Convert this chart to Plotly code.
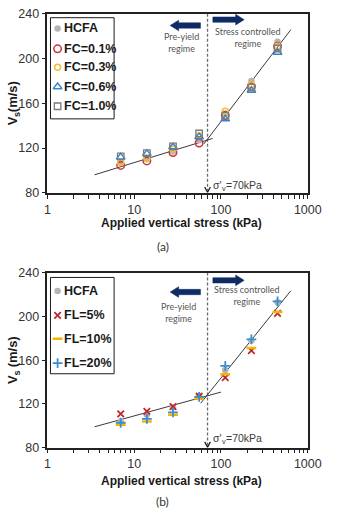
import math
import plotly.graph_objects as go

W, H = 337, 515

# ---------------- data ----------------
stress = [7, 14, 28, 56, 112, 224, 448]

# panel (a)
names_a = ["HCFA", "FC=0.1%", "FC=0.3%", "FC=0.6%", "FC=1.0%"]
hcfa_a = [107, 110, 117, 127, 151, 180, 215]
fc01 = [104.5, 108.5, 116, 124.5, 149, 175, 211]
fc03 = [107, 111, 119, 131, 153, 176.5, 211]
fc06 = [112, 115, 121, 130, 146, 171.5, 205.5]
fc10 = [112.5, 115.5, 121.5, 133, 149, 174, 209]

# panel (b)
names_b = ["HCFA", "FL=5%", "FL=10%", "FL=20%"]
hcfa_b = [104, 110, 117, 127, 151, 178, 213]
fl5 = [110.8, 113.2, 117.6, 127, 144, 168.6, 202.7]
fl10 = [101, 104, 110, 125, 147, 171, 204]
fl20 = [102.8, 106.4, 112.3, 126.5, 154.7, 179, 213.6]

# trend lines
pre_a_x, pre_a_y = [3.5, 80], [96.1, 128.6]
post_a_x, post_a_y = [63.6, 637], [123.7, 225.8]
pre_b_x, pre_b_y = [3.5, 100], [99.1, 130.8]
post_b_x, post_b_y = [58.4, 637], [120.6, 223.4]

yield_stress = 70
y_min, y_max = 80, 240
x_ticks = [1, 10, 100, 1000]
x_tick_labels = ["1", "10", "100", "1000"]
y_ticks = [80, 120, 160, 200, 240]
x_title = "Applied vertical stress (kPa)"
y_title_parts_a = ("V", "s", "(m/s)")
y_title_parts_b = ("V", "s", " (m/s)")

# ---------------- styles ----------------
st_a = [
    dict(symbol="circle", size=6.5, color="#b4b4b4", lw=0),
    dict(symbol="circle-open", size=7.5, color="#c9333a", lw=1.5),
    dict(symbol="circle-open", size=6, color="#f2bd35", lw=1.5),
    dict(symbol="triangle-up-open", size=7.5, color="#3586cc", lw=1.5),
    dict(symbol="square-open", size=6.5, color="#7b7b7b", lw=1.3),
]
st_b = [
    dict(symbol="circle", size=6.5, color="#b4b4b4", lw=0),
    dict(symbol="x-thin-open", size=6.5, color="#c0282d", lw=1.8),
    dict(symbol="line-ew-open", size=7, color="#f5b400", lw=2.5),
    dict(symbol="cross-thin-open", size=7, color="#3a8ed0", lw=1.8),
]

fig = go.Figure()

def px_x(p):
    return p / W

def px_y(p):
    return 1 - p / H

X0PX, X1PX = 46.7, 321.0

def data_to_px(xv):
    return X0PX + math.log10(xv) / 3 * (X1PX - X0PX)

panels = [
    dict(xa="x", ya="y", series=[hcfa_a, fc01, fc03, fc06, fc10], names=names_a, st=st_a,
         pre=(pre_a_x, pre_a_y), post=(post_a_x, post_a_y), ybot=191),
    dict(xa="x2", ya="y2", series=[hcfa_b, fl5, fl10, fl20], names=names_b, st=st_b,
         pre=(pre_b_x, pre_b_y), post=(post_b_x, post_b_y), ybot=453),
]

for p in panels:
    fig.add_trace(go.Scatter(x=[yield_stress, yield_stress], y=[y_max, y_min + 2], mode="lines",
                             line=dict(color="#6a6a6a", width=1.3, dash="3px,2px"),
                             xaxis=p["xa"], yaxis=p["ya"], showlegend=False, hoverinfo="skip"))
    for (lx, ly) in (p["pre"], p["post"]):
        fig.add_trace(go.Scatter(x=lx, y=ly, mode="lines", line=dict(color="#3a3a3a", width=1),
                                 xaxis=p["xa"], yaxis=p["ya"], showlegend=False, hoverinfo="skip"))
    for vals, nm, st in zip(p["series"], p["names"], p["st"]):
        fig.add_trace(go.Scatter(x=stress, y=vals, mode="markers", name=nm,
                                 marker=dict(symbol=st["symbol"], size=st["size"], color=st["color"],
                                             line=dict(color=st["color"], width=st["lw"])),
                                 xaxis=p["xa"], yaxis=p["ya"], showlegend=False))

# ---------------- manual legends (pixel helper axis) ----------------
legend_specs = [
    dict(box=(50, 11, 117, 115), ys=[22, 43, 62, 82, 102], names=names_a, st=st_a),
    dict(box=(50, 278, 117, 377), ys=[292, 317, 341, 366], names=names_b, st=st_b),
]
shapes = []
annotations = []
for L in legend_specs:
    x0, y0, x1, y1 = L["box"]
    shapes.append(dict(type="rect", xref="paper", yref="paper", x0=px_x(x0), x1=px_x(x1),
                       y0=px_y(y1), y1=px_y(y0), line=dict(color="#1a1a1a", width=1),
                       fillcolor="white", layer="below"))
    for yy, nm, st in zip(L["ys"], L["names"], L["st"]):
        fig.add_trace(go.Scatter(x=[57.5], y=[yy], mode="markers", xaxis="x3", yaxis="y3",
                                 marker=dict(symbol=st["symbol"], size=st["size"], color=st["color"],
                                             line=dict(color=st["color"], width=st["lw"])),
                                 showlegend=False, hoverinfo="skip"))
        annotations.append(dict(text=nm, xref="paper", yref="paper", x=px_x(62), y=px_y(yy),
                                xanchor="left", yanchor="middle", showarrow=False,
                                font=dict(family="Liberation Sans, Arial", size=12.5, color="#1a1a1a",
                                          weight="bold")))

# ---------------- arrows drawn as polygons (pixel helper axis) ----------------
navy = "#0e2c63"

def block_arrow(tip_x, tail_x, yc, shaft=5.5, head_h=11, head_len=9):
    d = 1 if tail_x > tip_x else -1
    hb = tip_x + d * head_len
    xs = [tip_x, hb, hb, tail_x, tail_x, hb, hb, tip_x]
    ys = [yc, yc - head_h / 2, yc - shaft / 2, yc - shaft / 2, yc + shaft / 2, yc + shaft / 2,
          yc + head_h / 2, yc]
    return xs, ys

arrow_specs = [(176, 208, 19), (254, 221, 13), (176, 208, 293), (254, 221, 281)]
for tip, tail, yc in arrow_specs:
    xs, ys = block_arrow(tip, tail, yc)
    fig.add_trace(go.Scatter(x=xs, y=ys, mode="lines", fill="toself", fillcolor=navy,
                             line=dict(color=navy, width=0.5), xaxis="x3", yaxis="y3",
                             showlegend=False, hoverinfo="skip"))

for p in panels:
    xc = data_to_px(yield_stress)
    yb = p["ybot"]
    fig.add_trace(go.Scatter(x=[xc - 3, xc, xc + 3], y=[yb - 6, yb - 0.5, yb - 6], mode="lines",
                             line=dict(color="#111111", width=1.2), xaxis="x3", yaxis="y3",
                             showlegend=False, hoverinfo="skip"))

# ---------------- text annotations ----------------
txt_font = dict(family="Lato, Open Sans", size=9, color="#555555")
title_font = dict(family="Liberation Sans, Arial", size=12, color="#1a1a1a", weight="bold")
ytitle_font = dict(family="Liberation Sans, Arial", size=13, color="#1a1a1a", weight="bold")
sub_font = dict(family="Liberation Sans, Arial", size=9, color="#1a1a1a", weight="bold")
sig_font = dict(family="Liberation Sans, Arial", size=10.5, color="#3a3a3a")
sig_sub_font = dict(family="Liberation Sans, Arial", size=7.5, color="#3a3a3a")


def ann(text, x, y, font, xa="center", ya="middle", angle=0, pad=1):
    return dict(text=text, xref="paper", yref="paper", x=px_x(x), y=px_y(y), xanchor=xa,
                yanchor=ya, showarrow=False, font=font, textangle=angle, borderpad=pad)


def y_title(parts, ycenter):
    v, s, rest = parts
    fs = ytitle_font["size"]
    wv = 0.667 * fs
    ws = 0.556 * sub_font["size"]
    wr = sum(0.278 if c == " " else (0.889 if c == "m" else (0.556 if c == "s" else 0.333 if c in "()" else 0.278))
             for c in rest) * fs
    total = wv + ws + wr
    yb = ycenter + total / 2
    out = [ann(v, 10, yb - wv / 2, ytitle_font, angle=-90, pad=0),
           ann(s, 14.5, yb - wv - ws / 2, sub_font, angle=-90, pad=0),
           ann(rest, 10, yb - wv - ws - wr / 2, ytitle_font, angle=-90, pad=0)]
    return out


def panel_text(pre_xy, stress_xy, sig_y, title_y, lab_y, label, yparts, ycenter):
    out = []
    out.append(ann("Pre-yield<br>regime", pre_xy[0], pre_xy[1], txt_font))
    out.append(ann("Stress controlled<br>regime", stress_xy[0], stress_xy[1], txt_font))
    out.append(ann("σ'", 220, sig_y, sig_font, xa="left", pad=0))
    out.append(ann("v", 229.5, sig_y + 3.5, sig_sub_font, xa="left", pad=0))
    out.append(ann("=70kPa", 234, sig_y, sig_font, xa="left", pad=0))
    out.append(ann(x_title, 187.5, title_y, title_font))
    out.append(ann(label, 168, lab_y, dict(family="Lato, Open Sans", size=12, color="#333333")))
    out += y_title(yparts, ycenter)
    return out

annotations += panel_text((188, 36.5), (258, 31), 183, 222, 246, "(a)", y_title_parts_a, 99)
annotations += panel_text((185, 314.5), (257, 297), 443, 487, 508, "(b)", y_title_parts_b, 363)

# ---------------- axes ----------------
minor_vals = [m * 10 ** k for k in range(0, 3) for m in range(2, 10)]
tick_font = dict(family="Liberation Sans, Arial", size=12.5, color="#333")

def make_x(anchor):
    return dict(domain=[X0PX / W, X1PX / W], anchor=anchor, type="log", range=[0, 3],
                tickmode="array", tickvals=x_ticks, ticktext=x_tick_labels,
                ticks="outside", ticklen=4, tickwidth=1, tickcolor="#222",
                minor=dict(tickmode="array", tickvals=minor_vals, ticks="outside", ticklen=4,
                           tickwidth=1, tickcolor="#222", showgrid=False),
                showline=True, linecolor="#222", linewidth=1.5, mirror=True,
                showgrid=False, zeroline=False, tickfont=tick_font)

def make_y(anchor, dom):
    return dict(domain=dom, anchor=anchor, range=[y_min, y_max], tickmode="array", tickvals=y_ticks,
                ticks="outside", ticklen=4, tickwidth=1, tickcolor="#222",
                showline=True, linecolor="#222", linewidth=1.5, mirror=True,
                showgrid=False, zeroline=False, tickfont=tick_font)

fig.update_layout(
    width=W, height=H, margin=dict(l=0, r=0, t=0, b=0),
    paper_bgcolor="white", plot_bgcolor="rgba(0,0,0,0)",
    showlegend=False,
    xaxis=make_x("y"),
    yaxis=make_y("x", [1 - 191 / H, 1 - 7 / H]),
    xaxis2=make_x("y2"),
    yaxis2=make_y("x2", [1 - 453 / H, 1 - 273 / H]),
    xaxis3=dict(domain=[0, 1], range=[0, W], visible=False, anchor="y3", fixedrange=True),
    yaxis3=dict(domain=[0, 1], range=[H, 0], visible=False, anchor="x3", fixedrange=True),
    shapes=shapes, annotations=annotations,
)

fig.write_html("out.html")
